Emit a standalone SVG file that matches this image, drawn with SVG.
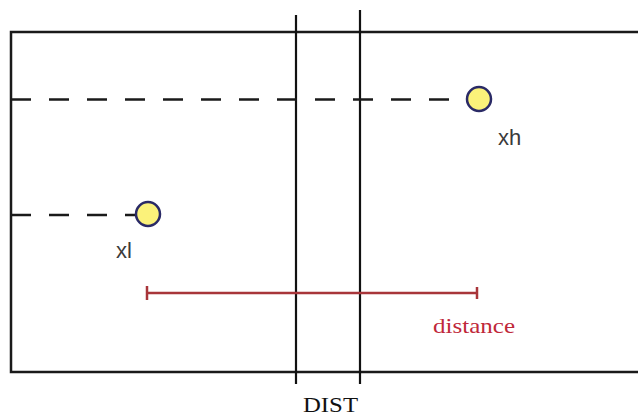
<svg xmlns="http://www.w3.org/2000/svg" width="638" height="416" viewBox="0 0 638 416">
<style>
.frame{fill:none;stroke:#1a1a1a;stroke-width:2.5}
.vline{stroke:#111;stroke-width:2.2}
.dash{stroke:#1a1a1a;stroke-width:2.5;stroke-dasharray:20 18}
.pt{fill:#fbf27a;stroke:#2a2a66;stroke-width:2.5}
.lbl{font-family:"Liberation Sans",Arial,sans-serif;font-size:22px;fill:#3a3a3a}
.red{stroke:#a8353a;stroke-width:2.5}
.serif{font-family:"Liberation Serif","Times New Roman",serif}
</style>
<rect width="638" height="416" fill="#ffffff"/>
<path class="frame" d="M640 32 H11 V372 H640"/>
<g id="connectors">
<line class="vline" x1="296" y1="15" x2="296" y2="384"/>
<line class="vline" x1="360" y1="10" x2="360" y2="384"/>
<line class="dash" x1="11" y1="99.5" x2="467" y2="99.5"/>
<line class="dash" x1="11" y1="215" x2="136" y2="215"/>
<line class="red" x1="147" y1="293" x2="477" y2="293"/>
<line class="red" x1="147" y1="286" x2="147" y2="300"/>
<line class="red" x1="477" y1="287" x2="477" y2="299"/>
</g>
<g id="xh">
<circle class="pt" cx="479" cy="99" r="12"/>
<text class="lbl" x="498" y="145">xh</text>
</g>
<g id="xl">
<circle class="pt" cx="148" cy="214" r="12"/>
<text class="lbl" x="116" y="258">xl</text>
</g>
<g id="distance">
<text class="serif" x="433" y="333" textLength="82" lengthAdjust="spacingAndGlyphs" font-size="21" fill="#c0283a">distance</text>
</g>
<g id="dist">
<text class="serif" x="303" y="412" textLength="55" lengthAdjust="spacingAndGlyphs" font-size="21" fill="#111">DIST</text>
</g>
</svg>
